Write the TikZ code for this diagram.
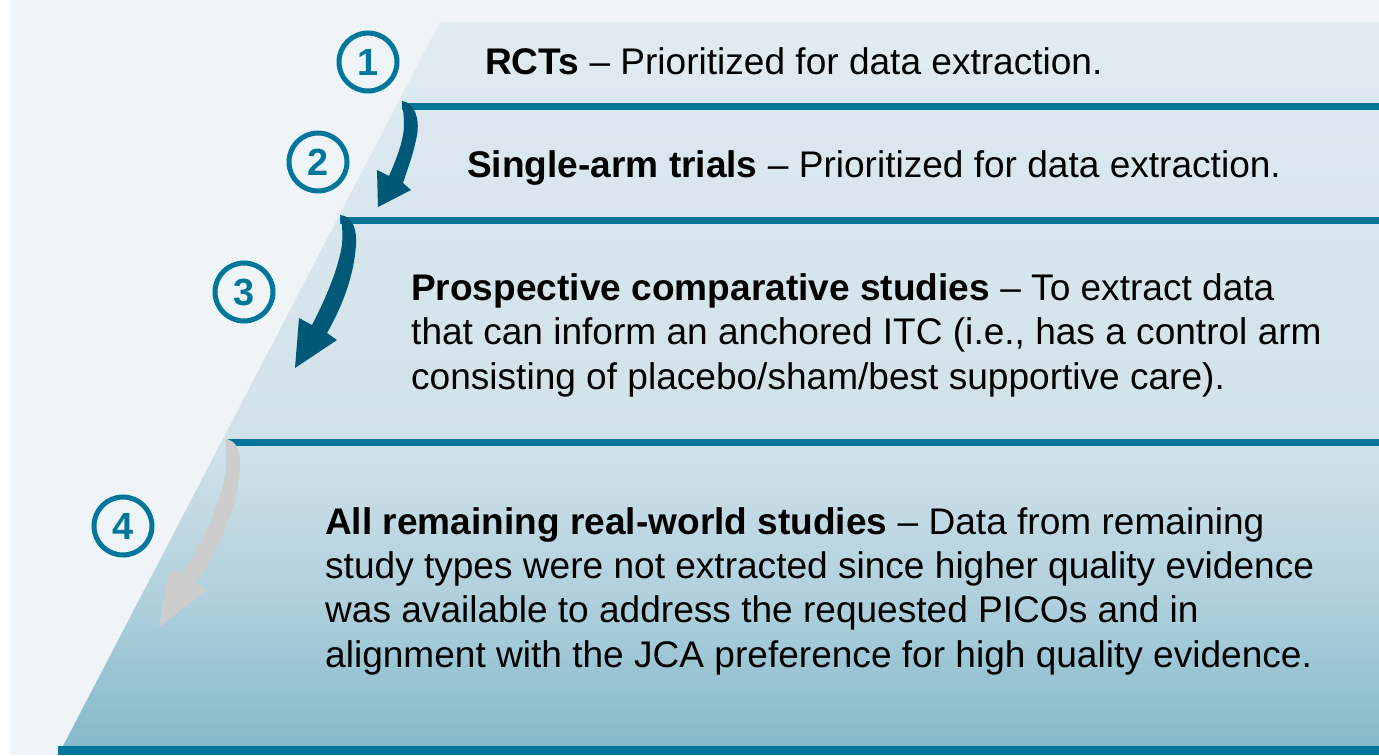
\documentclass[tikz,border=0pt]{standalone}
\usepackage{fontspec}
\setmainfont{Liberation Sans}
\usetikzlibrary{positioning}

\definecolor{pagebg}{HTML}{EFF4F8}
\definecolor{barblue}{HTML}{00769B}
\definecolor{arrowdark}{HTML}{005878}
\definecolor{arrowgrey}{HTML}{CDCDCD}
\definecolor{tiertop}{HTML}{E1ECF2}
\definecolor{tierhigh}{HTML}{DAE7EE}
\definecolor{tiermid}{HTML}{D2E2E9}
\definecolor{tierlow}{HTML}{AFD0DC}
\definecolor{tierbot}{HTML}{85B9CB}

% pale on top, darker towards the base
\pgfdeclareverticalshading{tierfill}{100bp}{color(0bp)=(tierbot); color(25bp)=(tierbot); color(35bp)=(tierlow); color(46bp)=(tiermid); color(66bp)=(tierhigh); color(75bp)=(tiertop); color(100bp)=(tiertop)}

\begin{document}
\begin{tikzpicture}[
  x=1bp, y=-1bp,
  bar/.style = {barblue, line width=7bp},
  numcircle/.style = {
    circle,
    draw=barblue,
    line width=5bp,
    minimum size=58bp,
    inner sep=0pt,
    text=barblue,
    font=\fontsize{38}{38}\selectfont\bfseries
  },
  tiertext/.style = {
    anchor=base west,
    inner sep=0pt,
    align=left,
    font=\fontsize{37.2}{44.3}\selectfont
  }
]

\useasboundingbox (0,0) rectangle (1379,755);
\fill[pagebg] (10,0) rectangle (1379,755);

% ======================================================
% PYRAMID
% ======================================================

\shade[shading=tierfill] (440,22) -- (1379,22) -- (1379,746) -- (63,746) -- cycle;

% ---- Tier borders ----
\draw[bar] (402,106) -- (1379,106);
\draw[bar] (340,220) -- (1379,220);
\draw[bar] (228,442) -- (1379,442);
\fill[barblue] (58,746) rectangle (1379,755);

% ---- Arrows between tiers ----
\fill[arrowdark] (402,101) .. controls (414,102) and (420,118) .. (417,135)
  .. controls (414,152) and (408,168) .. (403,183) -- (411,190) -- (378,207)
  -- (377,170) -- (389,176) .. controls (396,160) and (404,140) .. (404,125)
  .. controls (404,112) and (402,106) .. (402,101) -- cycle;
\fill[arrowdark] (340,215) .. controls (352,216) and (357,228) .. (356,245)
  .. controls (354,275) and (343,305) .. (327,333) -- (337,340) -- (295,368)
  -- (299,318) -- (312,325) .. controls (325,300) and (338,270) .. (342,245)
  .. controls (343,232) and (342,222) .. (340,215) -- cycle;
\fill[arrowgrey] (225,439) .. controls (236,440) and (241,450) .. (240,468)
  .. controls (238,510) and (215,555) .. (196,583) -- (207,590) -- (159,627)
  -- (170,568) -- (182,574) .. controls (200,545) and (222,505) .. (226,468)
  .. controls (227,455) and (226,446) .. (225,439) -- cycle;

% ---- Step numbers ----
\node[numcircle] (num1) at (368,62) {1};
\node[numcircle] (num2) at (318,162) {2};
\node[numcircle] (num3) at (244,292) {3};
\node[numcircle] (num4) at (123,526) {4};

% ---- Tier texts (multi-line ones sit on their last baseline) ----
\node[tiertext] (rct) at (485,74) {\textbf{RCTs} -- Prioritized for data extraction.};
\node[tiertext] (single) at (467,177) {\textbf{Single-arm trials} -- Prioritized for data extraction.};
\node[tiertext] (prosp) at (411,389) {\textbf{Prospective comparative studies} -- To extract data\\
  that can inform an anchored ITC (i.e., has a control arm\\
  consisting of placebo/sham/best supportive care).};
\node[tiertext] (rwe) at (325,667) {\textbf{All remaining real-world studies} -- Data from remaining\\
  study types were not extracted since higher quality evidence\\
  was available to address the requested PICOs and in\\
  alignment with the JCA preference for high quality evidence.};

\end{tikzpicture}
\end{document}
